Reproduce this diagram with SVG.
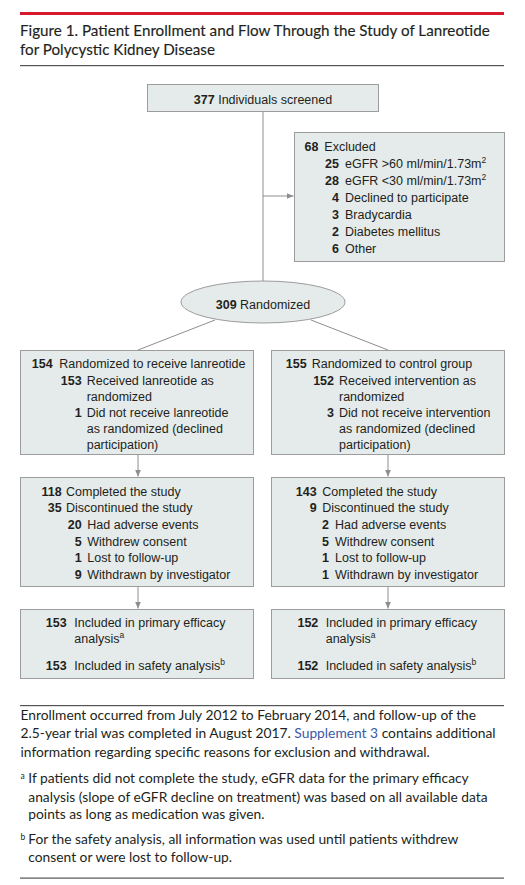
<svg xmlns="http://www.w3.org/2000/svg" width="525" height="885" viewBox="0 0 525 885">
<defs>
<style>
.bx{fill:#e5ebea;stroke:#9c9c9c;stroke-width:1}
.cn{stroke:#8e8e8e;stroke-width:1;fill:none}
.t{font-family:"Liberation Sans",Arial,sans-serif;font-size:12.5px;fill:#231f20}
.n{font-weight:bold;text-anchor:end}
.c{text-anchor:middle}
.ti{font-family:Lato,"Liberation Sans",sans-serif;font-size:15.2px;fill:#231f20;stroke:#231f20;stroke-width:0.15}
.ft{font-family:Lato,"Liberation Sans",sans-serif;font-size:13.8px;fill:#231f20}
.sup{font-size:8.5px}
</style>
<marker id="ah" viewBox="0 0 8 8" refX="8" refY="4" markerWidth="7" markerHeight="7" markerUnits="userSpaceOnUse" orient="auto">
<path d="M0,0.5 L8,4 L0,7.5 Z" fill="#8e8e8e"/>
</marker>
</defs>
<rect width="525" height="885" fill="#ffffff"/>

<g id="header">
<rect x="20" y="12" width="484" height="3" fill="#d7192d"/>
<text class="ti" x="20" y="36">Figure 1. Patient Enrollment and Flow Through the Study of Lanreotide</text>
<text class="ti" x="20" y="55">for Polycystic Kidney Disease</text>
<rect x="20" y="65" width="484" height="1.2" fill="#555"/>
</g>

<g id="connectors">
<line class="cn" x1="263" y1="112" x2="263" y2="281"/>
<line class="cn" x1="263" y1="196" x2="293.5" y2="196" marker-end="url(#ah)"/>
<line class="cn" x1="215" y1="320" x2="138" y2="350"/>
<line class="cn" x1="311" y1="320" x2="388" y2="350"/>
<line class="cn" x1="138" y1="455" x2="138" y2="476.5" marker-end="url(#ah)"/>
<line class="cn" x1="388" y1="455" x2="388" y2="476.5" marker-end="url(#ah)"/>
<line class="cn" x1="138" y1="587" x2="138" y2="608.5" marker-end="url(#ah)"/>
<line class="cn" x1="388" y1="587" x2="388" y2="608.5" marker-end="url(#ah)"/>
</g>

<g id="screened">
<rect class="bx" x="147.5" y="84.5" width="231" height="27"/>
<text class="t c" x="263" y="103.5"><tspan font-weight="bold">377</tspan> Individuals screened</text>
</g>

<g id="excluded">
<rect class="bx" x="294.5" y="132.5" width="210" height="129"/>
<text class="t n" x="318.5" y="151">68</text><text class="t" x="324.3" y="151">Excluded</text>
<text class="t n" x="339" y="168">25</text><text class="t" x="345" y="168">eGFR &gt;60 ml/min/1.73m<tspan class="sup" dy="-5">2</tspan></text>
<text class="t n" x="339" y="185">28</text><text class="t" x="345" y="185">eGFR &lt;30 ml/min/1.73m<tspan class="sup" dy="-5">2</tspan></text>
<text class="t n" x="339" y="202">4</text><text class="t" x="345" y="202">Declined to participate</text>
<text class="t n" x="339" y="219">3</text><text class="t" x="345" y="219">Bradycardia</text>
<text class="t n" x="339" y="236">2</text><text class="t" x="345" y="236">Diabetes mellitus</text>
<text class="t n" x="339" y="253">6</text><text class="t" x="345" y="253">Other</text>
</g>

<g id="randomized">
<ellipse class="bx" cx="263" cy="302" rx="82" ry="21"/>
<text class="t c" x="263" y="309"><tspan font-weight="bold">309</tspan> Randomized</text>
</g>

<g id="lanreotide-arm">
<rect class="bx" x="20.5" y="350.5" width="233" height="104"/>
<text class="t n" x="52.7" y="368">154</text><text class="t" x="59.3" y="368">Randomized to receive lanreotide</text>
<text class="t n" x="81.7" y="384.5">153</text><text class="t" x="86.7" y="384.5">Received lanreotide as</text>
<text class="t" x="86.7" y="400.5">randomized</text>
<text class="t n" x="81.7" y="416.5">1</text><text class="t" x="86.7" y="416.5">Did not receive lanreotide</text>
<text class="t" x="86.7" y="432.5">as randomized (declined</text>
<text class="t" x="86.7" y="448.5">participation)</text>
</g>

<g id="control-arm">
<rect class="bx" x="271.5" y="350.5" width="233" height="104"/>
<text class="t n" x="306.7" y="368">155</text><text class="t" x="311.7" y="368">Randomized to control group</text>
<text class="t n" x="334" y="384.5">152</text><text class="t" x="339" y="384.5">Received intervention as</text>
<text class="t" x="339" y="400.5">randomized</text>
<text class="t n" x="334" y="416.5">3</text><text class="t" x="339" y="416.5">Did not receive intervention</text>
<text class="t" x="339" y="432.5">as randomized (declined</text>
<text class="t" x="339" y="448.5">participation)</text>
</g>

<g id="lanreotide-followup">
<rect class="bx" x="20.5" y="477.5" width="233" height="109"/>
<text class="t n" x="61.7" y="495.7">118</text><text class="t" x="66" y="495.7">Completed the study</text>
<text class="t n" x="61.7" y="512.3">35</text><text class="t" x="66" y="512.3">Discontinued the study</text>
<text class="t n" x="81.7" y="529">20</text><text class="t" x="87.3" y="529">Had adverse events</text>
<text class="t n" x="81.7" y="545.7">5</text><text class="t" x="87.3" y="545.7">Withdrew consent</text>
<text class="t n" x="81.7" y="562.3">1</text><text class="t" x="87.3" y="562.3">Lost to follow-up</text>
<text class="t n" x="81.7" y="579">9</text><text class="t" x="87.3" y="579">Withdrawn by investigator</text>
</g>

<g id="control-followup">
<rect class="bx" x="271.5" y="477.5" width="233" height="109"/>
<text class="t n" x="316.7" y="495.7">143</text><text class="t" x="322.3" y="495.7">Completed the study</text>
<text class="t n" x="316.7" y="512.3">9</text><text class="t" x="322.3" y="512.3">Discontinued the study</text>
<text class="t n" x="329" y="529">2</text><text class="t" x="335" y="529">Had adverse events</text>
<text class="t n" x="329" y="545.7">5</text><text class="t" x="335" y="545.7">Withdrew consent</text>
<text class="t n" x="329" y="562.3">1</text><text class="t" x="335" y="562.3">Lost to follow-up</text>
<text class="t n" x="329" y="579">1</text><text class="t" x="335" y="579">Withdrawn by investigator</text>
</g>

<g id="lanreotide-analysis">
<rect class="bx" x="20.5" y="609.5" width="233" height="69"/>
<text class="t n" x="66.7" y="627.3">153</text><text class="t" x="74.3" y="627.3">Included in primary efficacy</text>
<text class="t" x="74.3" y="642.7">analysis<tspan class="sup" dy="-5">a</tspan></text>
<text class="t n" x="66.7" y="670">153</text><text class="t" x="74.3" y="670">Included in safety analysis<tspan class="sup" dy="-5">b</tspan></text>
</g>

<g id="control-analysis">
<rect class="bx" x="271.5" y="609.5" width="233" height="69"/>
<text class="t n" x="318.3" y="627.3">152</text><text class="t" x="325.7" y="627.3">Included in primary efficacy</text>
<text class="t" x="325.7" y="642.7">analysis<tspan class="sup" dy="-5">a</tspan></text>
<text class="t n" x="318.3" y="670">152</text><text class="t" x="325.7" y="670">Included in safety analysis<tspan class="sup" dy="-5">b</tspan></text>
</g>

<g id="footer">
<rect x="20" y="705" width="484" height="1.2" fill="#555"/>
<text class="ft" x="20.5" y="720">Enrollment occurred from July 2012 to February 2014, and follow-up of the</text>
<text class="ft" x="20.5" y="738.3">2.5-year trial was completed in August 2017. <tspan fill="#3a58a8">Supplement 3</tspan> contains additional</text>
<text class="ft" x="20.5" y="756.7">information regarding specific reasons for exclusion and withdrawal.</text>
<text class="ft" x="20.5" y="783.3"><tspan class="sup" dy="-4">a</tspan><tspan x="28.3" dy="4">If patients did not complete the study, eGFR data for the primary efficacy</tspan></text>
<text class="ft" x="28.3" y="801.7">analysis (slope of eGFR decline on treatment) was based on all available data</text>
<text class="ft" x="28.3" y="819.3">points as long as medication was given.</text>
<text class="ft" x="20.5" y="844"><tspan class="sup" dy="-4">b</tspan><tspan x="28.3" dy="4">For the safety analysis, all information was used until patients withdrew</tspan></text>
<text class="ft" x="28.3" y="862.3">consent or were lost to follow-up.</text>
<rect x="20" y="877.5" width="484" height="1.2" fill="#555"/>
</g>
</svg>
